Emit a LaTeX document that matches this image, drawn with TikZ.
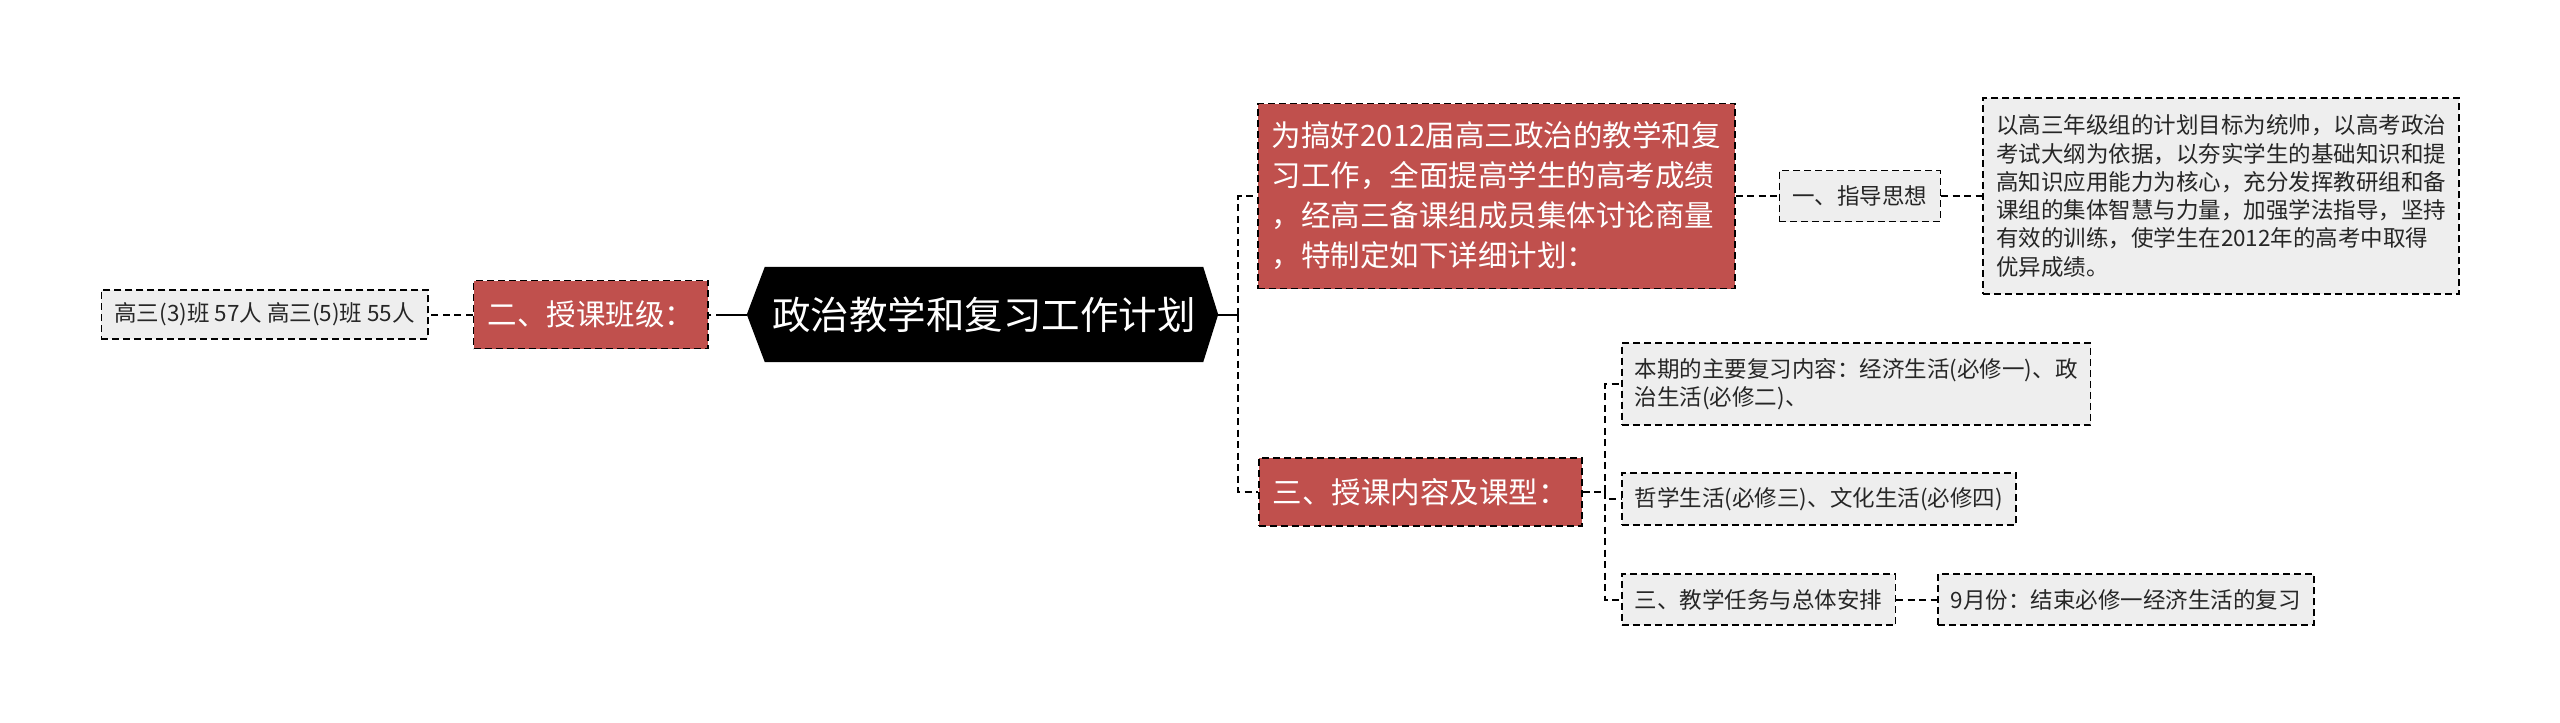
\documentclass[tikz,border=0pt]{standalone}
\usepackage{fontspec}
\setmainfont{Noto Sans CJK SC}
\usepackage{xcolor}
\definecolor{topicred}{HTML}{C0504D}
\definecolor{leafbg}{HTML}{EEEEEE}
\definecolor{inkdark}{HTML}{262626}
\usepackage{tikz}
\usetikzlibrary{positioning,calc,backgrounds}

\begin{document}
\begin{tikzpicture}[x=1pt, y=-1pt,
    font=\fontsize{22.5}{28.3}\selectfont,
    root/.style={text=white, minimum width=438pt, minimum height=95pt,
                 inner sep=0pt, font=\fontsize{38.5}{44}\selectfont},
    topic/.style={draw=black, fill=topicred, text=white, dash pattern=on 7pt off 4pt,
                  line width=1.6pt, inner xsep=14pt, align=left,
                  font=\fontsize{29.5}{40}\selectfont},
    leaf/.style={draw=black, fill=leafbg, text=inkdark, dash pattern=on 7pt off 4pt,
                 line width=1.6pt, inner xsep=13pt, align=left},
    link/.style={draw=black, line width=2pt, dash pattern=on 7pt off 4.5pt},
    stub/.style={draw=black, line width=2pt}]
  \useasboundingbox (0,0) rectangle (2560,723);
  % centre
  \node[root] (root) at (984,314.5) {政治教学和复习工作计划};
  \begin{scope}[on background layer]
    \fill[black] (root.north west) -- ([xshift=-18pt]root.west) -- (root.south west)
      -- (root.south east) -- ([xshift=15pt]root.east) -- (root.north east) -- cycle;
  \end{scope}
  % left branch
  \node[topic, minimum height=68pt, left=56pt of root] (classes) {二、授课班级：};
  \node[leaf, minimum height=49pt, left=44pt of classes] (roster) {高三(3)班 57人 高三(5)班 55人};
  % right branches
  \node[topic, minimum height=185pt, anchor=west] (intro) at (1257,196)
    {为搞好2012届高三政治的教学和复\\习工作，全面提高学生的高考成绩\\，经高三备课组成员集体讨论商量\\，特制定如下详细计划：};
  \node[leaf, minimum height=51pt, right=43pt of intro] (guide) {一、指导思想};
  \node[leaf, minimum height=196pt, right=41pt of guide] (idea)
    {以高三年级组的计划目标为统帅，以高考政治\\考试大纲为依据，以夯实学生的基础知识和提\\高知识应用能力为核心，充分发挥教研组和备\\课组的集体智慧与力量，加强学法指导，坚持\\有效的训练，使学生在2012年的高考中取得\\优异成绩。};
  \node[topic, minimum height=68pt, anchor=west] (content) at (1258,492) {三、授课内容及课型：};
  \node[leaf, minimum height=82pt, anchor=west] (review) at (1621,384)
    {本期的主要复习内容：经济生活(必修一)、政\\治生活(必修二)、};
  \node[leaf, minimum height=52pt, anchor=west] (philo) at (1621,499) {哲学生活(必修三)、文化生活(必修四)};
  \node[leaf, minimum height=51pt, anchor=west] (task) at (1621,599.5) {三、教学任务与总体安排};
  \node[leaf, minimum height=51pt, right=41pt of task] (sept) {9月份：结束必修一经济生活的复习};
  % connectors
  \draw[stub] ([xshift=-18pt]root.west) -- ++(-24pt,0) coordinate (lefthub);
  \draw[link] (lefthub) -- (classes);
  \draw[link] (classes) -- (roster);
  \draw[stub] ([xshift=15pt]root.east) -- ++(20pt,0) coordinate (righthub);
  \draw[link] (righthub) |- (intro.west);
  \draw[link] (righthub) |- (content.west);
  \draw[link] (intro) -- (guide);
  \draw[link] (guide) -- (idea);
  \draw[link] (content.east) -- ++(22pt,0) coordinate (fork);
  \draw[link] (fork) |- (review.west);
  \draw[link] (fork) |- (philo.west);
  \draw[link] (fork) |- (task.west);
  \draw[link] (task) -- (sept);
\end{tikzpicture}
\end{document}
